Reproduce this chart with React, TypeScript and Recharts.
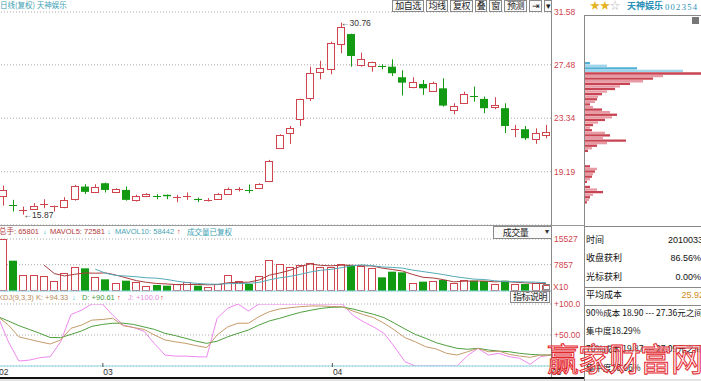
import React from 'react';
import {
  ComposedChart, Bar, Line, XAxis, YAxis, CartesianGrid, ReferenceLine, ReferenceDot, Cell,
} from 'recharts';

// daily candles, Feb-Apr 2010 (002354)
const opens = [17.34, 16.64, 16.15, 16.36, 16.62, 16.47, 16.44, 17.08, 18.04, 17.63, 18.3, 17.63, 17.78, 17.01, 17.32, 17.33, 17.4, 17.2, 17.25, 17.1, 16.99, 17.06, 17.47, 17.82, 17.8, 17.91, 18.48, 21.02, 22.18, 23.26, 24.89, 26.91, 27.22, 29.1, 29.87, 27.47, 27.34, 27.36, 27.34, 26.52, 25.79, 26.0, 25.46, 25.66, 24.04, 24.5, 25.04, 24.84, 24.19, 24.12, 22.49, 22.49, 21.79, 22.05];
const highs = [18.12, 17.01, 16.49, 16.75, 17.06, 16.57, 17.22, 18.17, 18.22, 18.22, 18.35, 17.91, 18.04, 17.4, 17.53, 17.45, 17.42, 17.4, 17.58, 17.19, 17.14, 17.53, 17.96, 17.99, 18.2, 18.3, 20.11, 22.1, 22.74, 24.86, 27.34, 27.8, 29.28, 30.76, 29.9, 28.43, 27.73, 27.53, 27.91, 27.06, 26.52, 26.31, 26.18, 26.44, 24.5, 25.4, 25.79, 25.02, 24.97, 24.5, 22.82, 22.74, 22.56, 22.82];
const lows = [16.56, 16.1, 15.87, 16.23, 16.36, 16.1, 16.36, 16.95, 17.47, 17.55, 17.58, 17.53, 16.95, 16.88, 17.22, 17.06, 17.06, 16.83, 17.01, 16.83, 16.88, 17.01, 17.4, 17.66, 17.53, 17.84, 18.38, 20.96, 21.35, 22.74, 24.68, 26.36, 26.75, 28.38, 27.34, 27.34, 26.95, 27.14, 26.62, 25.1, 25.66, 25.15, 25.4, 24.24, 23.65, 24.45, 24.63, 23.73, 24.04, 22.18, 21.87, 21.66, 21.35, 21.79];
const closes = [17.78, 16.6, 16.2, 16.57, 16.67, 16.52, 17.01, 18.09, 17.63, 18.04, 17.78, 17.84, 17.01, 17.34, 17.47, 17.31, 17.29, 17.24, 17.29, 17.06, 17.03, 17.45, 17.84, 17.86, 17.76, 18.22, 20.03, 22.05, 22.56, 24.81, 26.83, 27.22, 29.2, 30.39, 28.17, 27.91, 27.68, 27.32, 26.83, 26.1, 26.18, 25.66, 26.05, 24.32, 24.32, 25.23, 25.0, 24.12, 24.37, 22.74, 22.53, 21.79, 22.23, 22.26];

// volume (x10 hands) and its moving averages
const volumes = [15527, 9050, 4780, 4780, 4480, 2990, 5470, 7260, 6770, 4080, 3480, 2290, 3080, 2590, 1490, 1790, 1590, 1990, 2790, 1590, 1290, 1990, 4780, 3080, 2090, 4480, 9260, 7960, 7070, 7760, 8260, 7260, 7260, 7960, 7760, 7460, 6970, 4080, 5770, 5570, 2290, 2790, 2990, 3280, 2290, 3280, 3080, 2990, 1990, 3080, 1990, 2090, 2290, 1790];
const mavol5 = [null, null, null, null, 7723, 5216, 4500, 4996, 5394, 5314, 5412, 4776, 3940, 3104, 2586, 2248, 2108, 1890, 1930, 1950, 1850, 1930, 2488, 2546, 2646, 3284, 4738, 5374, 6172, 7306, 8062, 7662, 7522, 7700, 7700, 7540, 7482, 6846, 6408, 5970, 4936, 4100, 3882, 3384, 2728, 2926, 2984, 2984, 2726, 2884, 2626, 2428, 2288, 2248];
const mavol10 = [null, null, null, null, null, null, null, null, null, 6519, 5314, 4638, 4468, 4249, 3950, 3830, 3442, 2915, 2517, 2268, 2049, 2019, 2189, 2238, 2298, 2567, 3334, 3931, 4359, 4976, 5673, 6200, 6448, 6936, 7503, 7801, 7572, 7184, 7054, 6835, 6238, 5791, 5364, 4896, 4349, 3931, 3542, 3433, 3055, 2806, 2776, 2706, 2636, 2487];

// KDJ(9,3,3)
const kLine = [79.5, 66, 47, 43, 39, 35.5, 42, 60.8, 66, 74, 75, 77, 65, 62, 59, 50, 42, 39, 36.5, 32.8, 29.6, 50, 63, 69, 69, 79.5, 87.6, 92, 94, 95.7, 96.8, 96.8, 96, 95.7, 88.7, 83, 78, 69, 58, 45.7, 39, 31, 27.4, 20.4, 17.7, 23, 28.5, 23, 24, 18.8, 16, 14, 17.7, 17.7];
const dLine = [79.5, 72.6, 65, 59, 52.7, 46, 45.7, 51, 56.5, 64, 67, 69, 69, 67, 63, 59, 52.7, 49, 44.6, 40, 36.5, 40, 47, 52.7, 58, 66, 72.6, 77, 82, 86.6, 90, 93, 94.7, 95, 92, 87.6, 83.3, 78, 69, 59.7, 51, 44.6, 37.6, 32.8, 28.5, 27, 28.5, 25.8, 24, 23, 20.4, 18.8, 17.7, 17.7];
const jLine = [79.5, 39, 8, 9.5, 13.4, 15, 39, 83, 90, 100, 100, 82, 66, 62, 56, 36, 17.7, 16, 16, 15, 14.5, 77, 93, 100, 88.7, 100, 100, 100, 100, 100, 100, 100, 100, 100, 82, 71.5, 63, 52.7, 31, 7, 0, 0, 0, 0, 0, 16.7, 28.5, 17.7, 20.4, 15, 12.4, 2.7, 15, 17.7];

const priceTicks = [19.19, 23.34, 27.48, 31.58];
const volTicks = [7857, 15527];
const kdjTicks = [50, 100];
const monthTicks = [0, 10, 32, 53];
const monthLabels = ['02', '03', '04', '05'];

// chip distribution
const chipPrices = [27.6, 27.4, 27.2, 27.0, 26.8, 26.6, 26.4, 26.2, 26.0, 25.8, 25.6, 25.4, 25.2, 25.0, 24.8, 24.6, 24.4, 24.2, 24.0, 23.8, 23.6, 23.4, 23.2, 23.0, 22.8, 22.6, 22.4, 22.2, 22.0, 21.8, 21.6, 21.4, 21.2, 21.0, 20.8, 20.6, 20.4, 20.2, 20.0, 19.8, 19.6, 19.4, 19.2, 19.0, 18.8, 18.6, 18.4, 18.2, 18.0, 17.8, 17.6, 17.4, 17.2, 17.0, 16.8];
const chipAmounts = [5, 22, 52, 98, 116, 78, 68, 58, 45, 35, 30, 22, 17, 13, 12, 10, 5, 8, 17, 25, 32, 27, 20, 13, 8, 5, 7, 20, 25, 18, 41, 22, 12, 7, 3, 0, 0, 0, 0, 0, 5, 12, 10, 8, 7, 5, 2, 0, 5, 12, 18, 8, 5, 4, 2];

const RED = '#d0454d';
const GREEN = '#129b12';
const FONT = "'Liberation Sans', 'Noto Sans CJK SC', sans-serif";
const CJK = "'Noto Sans CJK SC', 'Liberation Sans', sans-serif";
const AX = 8.5;
const HS = 7.5;

const rows = opens.map((o, i) => ({
  i, open: o, high: highs[i], low: lows[i], close: closes[i],
  vol: volumes[i], ma5: mavol5[i], ma10: mavol10[i],
  k: kLine[i], d: dLine[i], j: jLine[i],
}));
const chips = chipPrices.map((p, i) => ({ price: p, amt: chipAmounts[i] }));

const Candle = (props: any) => {
  const { x, y, width, height, payload } = props;
  const { open, close, high, low } = payload;
  const up = close >= open;
  const color = up ? RED : GREEN;
  const span = high - low || 1;
  const py = (v: number) => y + ((high - v) / span) * height;
  const cx = Math.round(x + width / 2) + 0.5;
  const top = py(Math.max(open, close));
  const bot = py(Math.min(open, close));
  const bx = Math.round(x);
  return (
    <g>
      <line x1={cx} x2={cx} y1={y} y2={y + height} stroke={color} />
      {bot - top < 1.2 ? (
        <line x1={bx} x2={bx + width} y1={Math.round(top) + 0.5} y2={Math.round(top) + 0.5} stroke={color} />
      ) : up ? (
        <rect x={bx + 0.5} y={Math.round(top) + 0.5} width={width - 1} height={Math.round(bot - top)} fill="#fff" stroke={color} />
      ) : (
        <rect x={bx} y={top} width={width} height={bot - top} fill={color} />
      )}
    </g>
  );
};

const VolBar = (props: any) => {
  const { x, y, width, height, payload } = props;
  const up = payload.close >= payload.open;
  const bx = Math.round(x);
  if (up) {
    return <rect x={bx + 0.5} y={Math.round(y) + 0.5} width={width - 1} height={Math.max(Math.round(height) - 1, 0)} fill="#fff" stroke={RED} />;
  }
  return <rect x={bx} y={y} width={width} height={height} fill={GREEN} />;
};

const Extreme = (label: string) => (props: any) => {
  const { cx, cy } = props;
  return (
    <text x={cx} y={cy} dy="0.35em" fontSize={8.5} fill="#333" fontFamily={FONT}>
      {'\u2190' + label}
    </text>
  );
};

const MonthTick = (props: any) => {
  const { x, y, payload } = props;
  const k = monthTicks.indexOf(payload.value);
  return (
    <g>
      <line x1={x + 0.5} x2={x + 0.5} y1={y - 5} y2={y - 1} stroke="#555" />
      <text x={x + 1} y={y + 7} fontSize={AX} fill="#333" fontFamily={FONT}>{monthLabels[k]}</text>
    </g>
  );
};

// text centred vertically on cy
const Txt = ({ x, cy, c = '#333', s = 9, f = FONT, w = 400, children }: any) => (
  <div style={{ position: 'absolute', left: x, top: cy - 6, color: c, fontSize: s, fontFamily: f, fontWeight: w, lineHeight: '12px', whiteSpace: 'nowrap' }}>
    {children}
  </div>
);
const RTxt = ({ r, cy, c = '#333', s = 9, f = FONT, children }: any) => (
  <div style={{ position: 'absolute', right: r, top: cy - 6, color: c, fontSize: s, fontFamily: f, lineHeight: '12px', whiteSpace: 'nowrap' }}>
    {children}
  </div>
);
const HLine = ({ x, y, w, c = '#888' }: any) => (
  <div style={{ position: 'absolute', left: x, top: y, width: w, height: 1, background: c }} />
);
const VLine = ({ x, y, h, c = '#888' }: any) => (
  <div style={{ position: 'absolute', left: x, top: y, width: 1, height: h, background: c }} />
);

const toolButtons = [
  { t: '加自选', x: 392, w: 32 },
  { t: '均线', x: 426, w: 22 },
  { t: '复权', x: 450, w: 23 },
  { t: '叠', x: 475, w: 12 },
  { t: '窗', x: 489, w: 13 },
  { t: '预测', x: 504, w: 23 },
  { t: '\u21E5', x: 529, w: 13 },
  { t: '\u25BE', x: 544, w: 8 },
];

const Btn = ({ x, y, w, h, s = 9, children }: any) => (
  <div style={{ position: 'absolute', left: x, top: y, width: w, height: h, boxSizing: 'border-box', border: '1px solid #8a8a8a', background: '#fafafa', color: '#222', fontSize: s, fontFamily: CJK, lineHeight: `${h - 2}px`, textAlign: 'center', whiteSpace: 'nowrap', letterSpacing: -0.5 }}>
    {children}
  </div>
);

const tickStyle = { fill: RED, fontSize: AX, fontFamily: FONT };

export default function App() {
  return (
    <div style={{ position: 'absolute', left: 0, top: 0, width: 701, height: 381, background: '#fff', overflow: 'hidden' }}>
      {/* price panel */}
      <div style={{ position: 'absolute', left: -2, top: 0 }}>
        <ComposedChart width={591} height={226} data={rows} margin={{ top: 12, right: 0, bottom: 1, left: 0 }}>
          <CartesianGrid vertical={false} stroke="#aaa" strokeDasharray="1 2" />
          <XAxis dataKey="i" hide />
          <YAxis orientation="right" width={38} domain={[15.06, 31.58]} ticks={priceTicks} interval={0}
            tick={tickStyle} tickFormatter={(v: number) => v.toFixed(2)}
            tickSize={0} tickMargin={3} tickLine={false} axisLine={false} allowDataOverflow />
          <Bar dataKey={(d: any) => [d.low, d.high]} barSize={8} shape={<Candle />} isAnimationActive={false} />
          <ReferenceDot x={33} y={30.76} r={0} shape={Extreme('30.76')} />
          <ReferenceDot x={2} y={15.87} r={0} shape={Extreme('15.87')} />
        </ComposedChart>
      </div>

      {/* volume panel */}
      <div style={{ position: 'absolute', left: -2, top: 226 }}>
        <ComposedChart width={591} height={66} data={rows} margin={{ top: 13, right: 0, bottom: 1, left: 0 }}>
          <CartesianGrid vertical={false} stroke="#aaa" strokeDasharray="1 2" />
          <XAxis dataKey="i" hide />
          <YAxis orientation="right" width={38} domain={[0, 15527]} ticks={volTicks} interval={0}
            tick={tickStyle} tickSize={0} tickMargin={3}
            tickLine={false} axisLine={false} allowDataOverflow />
          <Bar dataKey="vol" barSize={8} shape={<VolBar />} isAnimationActive={false} />
          <Line dataKey="ma5" stroke="#a83c3c" dot={false} strokeWidth={1} isAnimationActive={false} />
          <Line dataKey="ma10" stroke="#55aab8" dot={false} strokeWidth={1} isAnimationActive={false} />
          <ReferenceLine y={0} stroke="#8fdbe6" />
        </ComposedChart>
      </div>

      {/* KDJ panel */}
      <div style={{ position: 'absolute', left: -2, top: 291 }}>
        <ComposedChart width={591} height={88} data={rows} margin={{ top: 13, right: 0, bottom: 0, left: 0 }}>
          <CartesianGrid vertical={false} stroke="#aaa" strokeDasharray="1 2" />
          <XAxis dataKey="i" height={13} ticks={monthTicks} interval={0} axisLine={false} tickLine={false}
            tickSize={0} tick={<MonthTick />} />
          <YAxis orientation="right" width={38} domain={[0, 100]} ticks={kdjTicks} interval={0}
            tick={tickStyle} tickFormatter={(v: number) => '+' + v.toPrecision(4)}
            tickSize={0} tickMargin={3} tickLine={false} axisLine={false} allowDataOverflow />
          <Line dataKey="j" stroke="#ee88ee" dot={false} strokeWidth={1} isAnimationActive={false} />
          <Line dataKey="d" stroke="#4f9f3f" dot={false} strokeWidth={1} isAnimationActive={false} />
          <Line dataKey="k" stroke="#c49a6a" dot={false} strokeWidth={1} isAnimationActive={false} />
          <ReferenceLine y={0} stroke="#8fdbe6" />
        </ComposedChart>
      </div>

      {/* frame lines */}
      <VLine x={551} y={0} h={378} />
      <HLine x={0} y={225} w={584} c="#999" />
      <HLine x={0} y={377} w={584} c="#111" />
      <HLine x={0} y={378} w={584} c="#111" />
      <div style={{ position: 'absolute', left: 0, top: 379, width: 701, height: 2, background: '#e4e4e4' }} />

      {/* headers */}
      <Txt x={0} cy={5} c="#3ea2b4" s={7.5} f={CJK}>日线(复权) 天神娱乐</Txt>
      {toolButtons.map((b) => (
        <Btn key={b.t} x={b.x} y={0} w={b.w} h={12}>{b.t}</Btn>
      ))}

      <Txt x={-1} cy={231.5} s={HS} c="#b23a3a">总手: 65801</Txt>
      <Txt x={43} cy={231.5} s={HS} c="#2fb6d6">{'\u2193'}</Txt>
      <Txt x={50} cy={231.5} s={HS} c="#b23a3a">MAVOL5: 72581</Txt>
      <Txt x={107} cy={231.5} s={HS} c="#2fb6d6">{'\u2193'}</Txt>
      <Txt x={115} cy={231.5} s={HS} c="#4aa4b4">MAVOL10: 58442</Txt>
      <Txt x={177} cy={231.5} s={HS} c="#e02020">{'\u2191'}</Txt>
      <Txt x={187} cy={231.5} s={7.5} c="#3ea2b4" f={CJK}>成交量已复权</Txt>
      <Btn x={493} y={226} w={59} h={13}>
        <span style={{ marginRight: 14 }}>成交量</span>
      </Btn>
      <Txt x={545} cy={232} s={8}>{'\u25BE'}</Txt>

      <Txt x={-2} cy={297.5} s={HS} c="#b58b5a">KDJ(9,3,3) K: +94.33</Txt>
      <Txt x={72} cy={297.5} s={HS} c="#2fb6d6">{'\u2193'}</Txt>
      <Txt x={82} cy={297.5} s={HS} c="#3f9a3f">D: +90.61</Txt>
      <Txt x={117} cy={297.5} s={HS} c="#e02020">{'\u2191'}</Txt>
      <Txt x={128} cy={297.5} s={HS} c="#e58ce5">J: +100.0</Txt>
      <Txt x={160} cy={297.5} s={HS} c="#e02020">{'\u2191'}</Txt>
      <Btn x={510} y={291} w={40} h={12}>指标说明</Btn>
      <div style={{ position: 'absolute', left: 543, top: 284, width: 7, height: 6, border: '1px solid #888', boxSizing: 'border-box' }} />
      <Txt x={553} cy={287} c={RED} s={AX}>X10</Txt>

      {/* right panel */}
      <Txt x={590} cy={6} s={10}>
        <span style={{ color: '#e5b31f' }}>★★</span><span style={{ color: '#bbb' }}>☆</span>
      </Txt>
      <Txt x={627} cy={6} c="#2a90b8" s={9} f={CJK} w={700}>天神娱乐</Txt>
      <Txt x={665} cy={6.5} c="#2a90b8" s={8.5} f="'Liberation Serif', serif"><span style={{ letterSpacing: 1.3 }}>002354</span></Txt>
      <VLine x={584} y={15} h={366} />
      <HLine x={584} y={15} w={117} />
      <div style={{ position: 'absolute', left: 692, top: 17, width: 7, height: 7, background: '#777' }} />
      <div style={{ position: 'absolute', left: 584, top: 0 }}>
        <ComposedChart layout="vertical" width={117} height={226} data={chips} margin={{ top: 12, right: 0, bottom: 1, left: 1 }}>
          <XAxis type="number" domain={[0, 116]} hide allowDataOverflow />
          <YAxis type="number" dataKey="price" domain={[15.06, 31.58]} reversed hide allowDataOverflow />
          <Bar dataKey="amt" barSize={3} isAnimationActive={false}>
            {chips.map((c, k) => (
              <Cell key={k} fill={c.price >= 27 ? (k % 2 ? '#9fd4ea' : '#52b0d6') : (k % 2 ? '#e89aa4' : '#c84452')} />
            ))}
          </Bar>
        </ComposedChart>
      </div>
      <HLine x={584} y={226} w={117} />
      <Txt x={586} cy={240} s={9} f={CJK} c="#111">时间</Txt>
      <RTxt r={-7} cy={240} s={9} c="#111">20100331</RTxt>
      <Txt x={586} cy={258} s={9} f={CJK} c="#111">收盘获利</Txt>
      <RTxt r={0} cy={258} s={9} c="#111">86.56%</RTxt>
      <Txt x={586} cy={277} s={9} f={CJK} c="#111">光标获利</Txt>
      <RTxt r={0} cy={277} s={9} c="#111">0.00%</RTxt>
      <HLine x={584} y={287} w={117} />
      <Txt x={586} cy={295} s={9} f={CJK} c="#111">平均成本</Txt>
      <RTxt r={-3} cy={295} s={9} c="#d08a20">25.92</RTxt>
      <HLine x={584} y={305} w={117} />
      <Txt x={586} cy={312} s={8.5} f={CJK} c="#111">90%成本 18.90 --- 27.36元之间</Txt>
      <Txt x={586} cy={330} s={8.5} f={CJK} c="#111">集中度18.29%</Txt>
      <Txt x={586} cy={348} s={8.5} f={CJK} c="#111">70%成本 19.87 --- 27.09元之间</Txt>
      <Txt x={586} cy={367} s={8.5} f={CJK} c="#111">集中度10.66%</Txt>

      {/* watermark */}
      <svg style={{ position: 'absolute', left: 0, top: 0 }} width={701} height={381}>
        <text x={547} y={371} fontSize={32} fontFamily={CJK} fill="#fff" fillOpacity={0.55} stroke="#e3262c" strokeWidth={1} letterSpacing={-1}>
          赢家财富网
        </text>
      </svg>
    </div>
  );
}
